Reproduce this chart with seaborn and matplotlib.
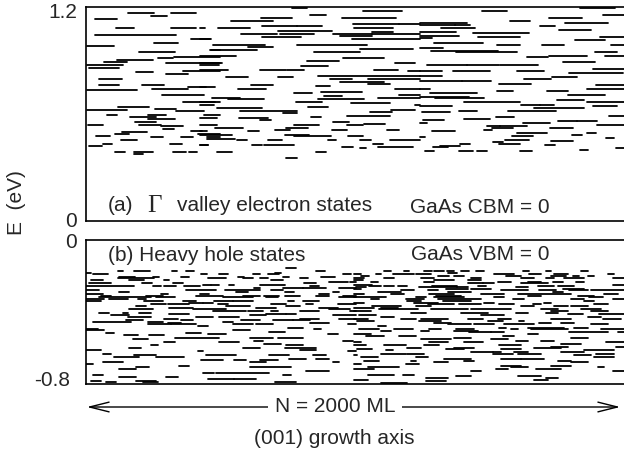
import matplotlib
matplotlib.use("Agg")
import matplotlib.pyplot as plt
from matplotlib.patches import FancyArrowPatch
import pandas as pd
import seaborn as sns

# ---------------- (a) Gamma valley electron states (ML positions, eV) ----------------
top_a_start = [155,315,240,33,110,315,33,389,254,5,
               464,198,327,268,114,67,296,5,12,362,
               186,296,48,207,48,381,244,5,281,362,
               118,257,5,333,77,232,439,164,232,181,
               9,198,278,285,389,133,108,418,37,242,
               353,451,129,64,312,424,12,108,180,325,
               384,180]
top_a_end = [254,408,300,114,178,408,333,464,343,104,
             498,331,498,325,250,151,498,139,123,498,
             250,378,135,291,123,445,381,188,439,498,
             234,333,151,439,116,296,498,259,331,259,
             64,278,362,327,433,226,160,498,89,285,
             397,498,188,95,356,455,58,145,250,372,
             412,213]
top_a_E = [1.168,1.168,1.147,1.133,1.084,1.084,1.042,1.020,0.999,0.980,
           0.959,0.945,0.922,0.912,0.901,0.892,0.886,0.874,0.860,0.843,
           0.836,0.824,0.799,0.764,0.760,0.749,0.742,0.734,0.704,0.666,
           0.638,0.629,0.621,0.617,0.593,0.593,0.593,0.584,0.573,0.554,
           0.540,0.540,0.535,0.516,0.506,0.497,0.486,0.486,0.479,0.471,
           0.471,0.471,0.453,0.433,0.433,0.426,0.419,0.388,0.388,0.388,
           0.388,0.375]

top_b_start = [765,1028,831,650,953,538,992,1162,653,784,
               492,997,424,715,1063,575,722,920,1063,945,
               653,424,988,471,786,604,1017,461,848,424,
               957,821,424,1149,424,798,1069,424,645,749,
               1198,862,521,713,908,1050,945,1048,612,854,
               424,1149,564,873,775,1164,883,470,1085,529,
               864,424,780,984,424,1224,827,488,1133,573,
               1054,734,970,836,424,569,647,920,1032,424,
               774,970,480,744,703,914,1118,424,604,424,
               740,775,973,449,678,560,899,1019,1131,1066,
               660,616,424,951,1087,1017,488,856,744]
top_b_end = [823,1174,893,765,1152,694,1162,1242,784,877,
             608,1143,443,914,1143,709,846,1063,1242,1063,
             798,461,1242,666,1044,697,1215,637,1019,557,
             1108,942,507,1224,496,901,1158,529,744,812,
             1242,1242,604,769,988,1242,1106,1131,697,908,
             480,1242,668,1025,839,1242,951,573,1242,660,
             1034,480,877,1131,474,1242,901,653,1224,784,
             1137,784,1131,873,486,678,687,976,1112,486,
             867,1029,585,827,759,970,1164,451,643,542,
             829,910,1029,554,728,600,929,1059,1242,1104,
             774,653,455,992,1214,1042,542,893,784]
top_b_E = [1.192,1.179,1.157,1.137,1.137,1.121,1.102,1.102,1.095,1.095,
           1.084,1.084,1.084,1.066,1.061,1.050,1.050,1.050,1.050,1.038,
           1.029,1.020,1.020,0.987,0.987,0.977,0.965,0.957,0.949,0.926,
           0.912,0.898,0.888,0.888,0.874,0.870,0.848,0.845,0.845,0.845,
           0.839,0.813,0.809,0.805,0.795,0.795,0.781,0.768,0.760,0.757,
           0.751,0.740,0.740,0.726,0.717,0.708,0.700,0.692,0.692,0.682,
           0.682,0.666,0.666,0.659,0.651,0.651,0.640,0.635,0.625,0.619,
           0.611,0.603,0.591,0.584,0.576,0.576,0.569,0.556,0.546,0.536,
           0.536,0.536,0.524,0.524,0.512,0.512,0.512,0.505,0.505,0.484,
           0.484,0.475,0.475,0.460,0.453,0.453,0.453,0.453,0.453,0.433,
           0.424,0.424,0.424,0.413,0.413,0.407,0.388,0.388,0.352]

top_c_start = [1837,1471,1922,1723,1577,1781,1242,1242,1372,1688,
               1319,1760,1242,1437,1242,1459,1912,1242,1816,1292,
               1527,1695,1951,1242,1282,1376,1893,1723,1930,1639,
               1775,1269,1416,1540,1884,1242,1366,1602,1796,1242,
               1732,1629,1242,1397,1536,1897,1242,1862,1527,1713,
               1277,1790,1242,1298,1750,1407,1862,1616,1686,1242,
               1883,1664,1567,1388,1248,1946,1525,1407,1254,1753,
               1825,1242,1626,1899,1490,1540,1509,1726,1480,1285,
               1602,1862,1806,1583,1242,1934,1558,1729,1512,1537,
               1391,1707,1316,1289,1971,1837,1261,1385,1455,1614]
top_c_end = [1967,1564,2000,1843,1651,1939,1416,1372,1428,1744,
             1447,1878,1375,1645,1388,1614,2000,1285,1930,1475,
             1614,1778,2000,1326,1533,1602,1974,1864,2000,1719,
             1893,1416,1537,1682,2000,1323,1500,1703,1998,1323,
             1827,1728,1397,1505,1654,2000,1279,2000,1589,1791,
             1455,1930,1422,1478,1850,1614,2000,1688,1738,1360,
             1974,1850,1748,1455,1354,2000,1592,1500,1329,1825,
             1899,1269,1726,2000,1540,1639,1589,1812,1509,1372,
             1713,1895,1843,1661,1261,1964,1645,1810,1552,1614,
             1428,1744,1391,1345,2000,1868,1292,1440,1490,1657]
top_c_E = [1.195,1.175,1.155,1.141,1.123,1.113,1.108,1.099,1.099,1.095,
           1.082,1.070,1.058,1.052,1.038,1.032,1.032,1.024,1.014,0.999,
           0.986,0.986,0.986,0.971,0.953,0.945,0.945,0.926,0.926,0.920,
           0.892,0.876,0.876,0.876,0.850,0.843,0.843,0.843,0.828,0.813,
           0.807,0.795,0.785,0.785,0.769,0.760,0.742,0.742,0.730,0.730,
           0.719,0.706,0.694,0.687,0.676,0.668,0.668,0.653,0.653,0.644,
           0.644,0.633,0.619,0.619,0.613,0.587,0.582,0.574,0.565,0.559,
           0.559,0.550,0.550,0.538,0.532,0.532,0.520,0.520,0.512,0.503,
           0.494,0.494,0.482,0.475,0.469,0.463,0.456,0.447,0.441,0.431,
           0.431,0.426,0.422,0.415,0.407,0.400,0.394,0.394,0.394,0.394]

# ---------------- (b) Heavy hole states: levels (eV) with segment starts / ends (ML) ----------------
hh_levels = [-0.158,-0.173,-0.184,-0.192,-0.207,-0.216,-0.225,-0.235,-0.244,-0.253,
             -0.259,-0.272,-0.281,-0.290,-0.304,-0.315,-0.322,-0.331,-0.343,-0.352,
             -0.361,-0.371,-0.378,-0.387,-0.399,-0.406,-0.412,-0.421,-0.430,-0.439,
             -0.449,-0.458,-0.464,-0.471,-0.480,-0.490,-0.495,-0.505,-0.514,-0.520,
             -0.527,-0.533,-0.547,-0.555,-0.564,-0.570,-0.583,-0.588,-0.600,-0.603,
             -0.614,-0.622,-0.635,-0.644,-0.654,-0.663,-0.672,-0.682,-0.691,-0.704,
             -0.711,-0.719,-0.732,-0.741,-0.750,-0.762,-0.775,-0.784,-0.793]
hh_starts = [[744],[180,118,320,372,856],[0,703],[25,428,496,620,676,955],[124,248,353,564,732,874],
             [118,453,583,645,794],[19,161,291,688],[905,980],[12,208,322,812],[434,465,533,645],
             [0,248,291,366,831],[626,732,806,942],[0,372,515,688],[124,558,738,918],[0,279,422,868],
             [56,223,409,583,663,738,856,955],[50,260,508,670,942],[0,87,192],[0,217,360,477,546,750,806],[384,434],
             [242,304,490,688,818,936],[186,521,744],[310,632,868],[397,161,905],[471,601,688,794,980],
             [50,136,198],[310,670,744],[93,608,918],[155,409,496],[291,794,942],
             [149,353,577,694,769],[25,229,508],[304,831],[229,316,546,632,973],[415],
             [750],[0,849],[0,546],[682],[372,74],
             [453,899],[143,236],[329,608,713],[174],[626,955],
             [291,496],[663],[744,242],[583,161],[738],
             [0,794],[415,973],[62],[180,446,682,843],[260,105],
             [756,856],[428,552,645],[62,918,608],[0],[347],
             [186,608],[124],[818],[484,434],[25,732],
             [124,298],[453,552],[19,186],[74,211,701]]
hh_ends = [[779],[238,136,337,403,887],[19,725],[81,449,527,645,719,986],[184,270,384,589,756,924],
           [254,521,620,676,825],[62,217,310,732],[973,1004],[93,246,360,856],[465,496,552,738],
           [180,279,335,422,868],[645,806,893,1004],[50,484,645,732],[161,601,775,942],[62,304,459,905],
           [93,285,508,645,719,794,905,1004],[242,329,620,713,1004],[68,155,223],[56,285,409,546,620,775,868],[434,471],
           [298,384,527,744,843,1004],[223,608,794],[397,707,936],[521,248,980],[595,657,713,868,1004],
           [87,155,242],[384,744,781],[161,670,1004],[242,471,570],[341,868,1004],
           [211,397,645,769,831],[167,285,546],[353,905],[316,409,620,694,1004],[453],
           [806],[43,874],[68,608],[738],[428,105],
           [521,936],[192,291],[496,694,806],[229],[657,992],
           [329,570],[725],[806,267],[645,205],[856],
           [56,856],[434,1004],[93],[260,558,756,893],[366,198],
           [818,905],[508,595,713],[136,942,670],[25],[384],
           [236,763],[186],[905],[682,477],[62,763],
           [186,341],[552,632],[56,260],[112,267,781]]

hh2_levels = [-0.175,-0.184,-0.192,-0.201,-0.212,-0.225,-0.235,-0.244,-0.250,-0.259,
              -0.266,-0.276,-0.283,-0.294,-0.304,-0.313,-0.322,-0.331,-0.341,-0.350,
              -0.359,-0.369,-0.378,-0.387,-0.397,-0.406,-0.415,-0.421,-0.430,-0.443,
              -0.453,-0.462,-0.471,-0.480,-0.490,-0.499,-0.508,-0.514,-0.523,-0.536,
              -0.546,-0.555,-0.562,-0.572,-0.581,-0.588,-0.596,-0.603,-0.611,-0.616,
              -0.626,-0.635,-0.644,-0.655,-0.663,-0.674,-0.682,-0.691,-0.700,-0.711,
              -0.719,-0.732,-0.750,-0.760,-0.769,-0.778,-0.788,-0.795]
hh2_starts = [[1109,1181,1257,1295,1342,1394,1450,1623,1710,1840],[1344],
              [997,1078,1140,1226,1518,1648,1741,1939],[1022,1307,1369,1561,1729,1809,1865],
              [997,1109,1245,1431,1617,1710,1778,1958],[997,1295,1419],
              [1059,1257,1530,1642,1735,1822],[1419,1474,1617],[997,1958],
              [1053,1109,1158,1288,1456,1679,1753],[1003,1239,1381,1598],[997,1338,1431,1772],
              [1171,1270,1543,1685,1797,1877],[1084,1344,1735],[997,1133,1276,1468,1605,1927],
              [1301,1642,1828],[997,1226,1295,1518,1871],[1059,1189,1307,1586,1803,1958],
              [1195,1326,1853],[997,1220,1481,1704],[1270,1388,1536,1660,1890],
              [1065,1226,1617,1741,1803],[997,1096],[1090,1282,1431,1691,1840],
              [997,1729,1877],[1208,1394,1598,1710],[1791,1908],[1016,1468],[1096,1865],
              [997,1171,1245,1419,1530,1729,1921],[1009,1239,1493,1611],[1295,1685,1766],
              [1344,1443,1555,1877],[1084],[1536,1642,1815],[1016,1146,1276,1375,1580,1654,1915],
              [1096,1245,1369],[1425,1505,1797,1977],[997,1642],[1040,1164,1549],[1369,1803],
              [1245,1505],[1598,1691],[997,1276,1406,1933],[1766],[997,1109,1257,1536],
              [1729,1970],[1195,1369,1667],[1009,1338,1543],[1115,1853],[1431,1512,1592,1766],
              [1096,1195,1512,1605,1896],[997,1815],[1226,1890,1022],[1332,1543,1617],
              [1034,1208,1406,1753],[1295,1803],[997,1189],[1543,1729],[1047,1580,1902],
              [997,1524,1673],[1431,1958],[1047,1177],[1375,1605],[1264,1710],[997,1667],
              [1264],[1096]]
hh2_ends = [[1133,1202,1285,1332,1369,1425,1481,1648,1729,1865],[1381],
            [1022,1096,1220,1282,1592,1691,1791,1964],[1053,1350,1406,1617,1784,1834,1890],
            [1034,1146,1295,1468,1667,1741,1853,2000],[1028,1369,1468],
            [1084,1295,1580,1691,1772,1853],[1474,1518,1716],[1065,2000],
            [1096,1146,1195,1381,1487,1741,1815],[1040,1381,1419,1642],[1022,1419,1505,1853],
            [1220,1307,1642,1747,1865,2000],[1171,1431,1772],[1034,1183,1369,1555,1803,1977],
            [1394,1691,1890],[1115,1264,1406,1555,1921],[1090,1257,1468,1629,1853,2000],
            [1245,1431,1890],[1034,1307,1518,1729],[1369,1468,1592,1691,1939],
            [1171,1282,1667,1791,1865],[1071,1158],[1233,1419,1580,1753,1915],
            [1059,1791,1939],[1264,1493,1642,1753],[1846,2000],[1078,1555],[1146,1915],
            [1047,1226,1344,1474,1580,1803,1989],[1071,1319,1549,1629],[1357,1729,1815],
            [1431,1518,1667,1939],[1115],[1561,1778,1865],[1090,1214,1319,1443,1605,1791,2000],
            [1133,1276,1456],[1505,1555,1939,2000],[1059,1679],[1109,1226,1592],[1431,1865],
            [1357,1567],[1642,1741],[1022,1344,1474,2000],[1840],[1040,1189,1313,1617],
            [1791,2000],[1245,1443,1766],[1065,1406,1617],[1140,1964],[1512,1543,1642,1853],
            [1189,1257,1586,1691,1964],[1009,1877],[1270,1964,1084],[1431,1617,1704],
            [1090,1226,1443,1803],[1344,1865],[1022,1239],[1617,1803],[1164,1642,1927],
            [1071,1567,1766],[1468,2000],[1146,1220],[1431,1691],[1344,1753],[1047,1716],
            [1338],[1195]]

tick_top_vals = [0, 1.2]
tick_top = ["0", "1.2"]
tick_bot_vals = [-0.8, 0]
tick_bot = ["-0.8", "0"]


def seg_frame(starts, ends, energies):
    rows = []
    for i, (a, b, e) in enumerate(zip(starts, ends, energies)):
        rows.append((i, a, e))
        rows.append((i, b, e))
    return pd.DataFrame(rows, columns=["seg", "x", "E"])


def grouped(levels, starts, ends):
    s, t, e = [], [], []
    for lev, ss, ee in zip(levels, starts, ends):
        for a, b in zip(ss, ee):
            s.append(a); t.append(b); e.append(lev)
    return s, t, e


top_df = seg_frame(top_a_start + top_b_start + top_c_start,
                   top_a_end + top_b_end + top_c_end,
                   top_a_E + top_b_E + top_c_E)
s1, e1, l1 = grouped(hh_levels, hh_starts, hh_ends)
s2, e2, l2 = grouped(hh2_levels, hh2_starts, hh2_ends)
bot_df = seg_frame(s1 + s2, e1 + e2, l1 + l2)

sns.set_theme(style="white")
plt.rcParams["font.family"] = ["Liberation Sans", "DejaVu Sans"]

W, H = 624, 455
fig = plt.figure(figsize=(W / 100, H / 100), dpi=100)
ax1 = fig.add_axes([86 / W, 1 - 221 / H, 1 - 86 / W, (221 - 7) / H])
ax2 = fig.add_axes([86 / W, 1 - 383.5 / H, 1 - 86 / W, (383.5 - 239.5) / H])

for ax, df in ((ax1, top_df), (ax2, bot_df)):
    sns.lineplot(data=df, x="x", y="E", units="seg", estimator=None, sort=False,
                 color="black", lw=1.3, ax=ax, legend=False)
    ax.set_xlim(0, 2000)
    ax.set_xticks([])
    ax.set_yticks([])
    ax.set_xlabel("")
    ax.set_ylabel("")
    for side in ("left", "top", "bottom"):
        ax.spines[side].set_color("black")
        ax.spines[side].set_linewidth(1.2)
    ax.spines["right"].set_visible(False)

ax1.set_ylim(0, 1.2)
ax2.set_ylim(-0.8, 0)

# tick labels (offsets in points, as positioned in the reference)
fs = 15
px = 0.72  # points per pixel at 100 dpi
for val, lab, dy in zip(tick_top_vals, tick_top, (0, -5)):
    ax1.annotate(lab, xy=(0, val), xycoords=("axes fraction", "data"),
                 xytext=(-9 * px, dy * px), textcoords="offset points",
                 ha="right", va="center", fontsize=fs)
for val, lab, dy in zip(tick_bot_vals, tick_bot, (3, -3)):
    ax2.annotate(lab, xy=(0, val), xycoords=("axes fraction", "data"),
                 xytext=(-(16 if lab == "-0.8" else 9) * px, dy * px), textcoords="offset points",
                 ha="right", va="center", fontsize=fs)

fig.text(108 / W, 1 - 211 / H, "(a)", fontsize=fs, va="baseline")
fig.text(147 / W, 1 - 212 / H, "Γ", fontsize=18, va="baseline",
         family=["Liberation Serif", "DejaVu Serif"])
fig.text(177 / W, 1 - 211 / H, "valley electron states", fontsize=fs, va="baseline")
fig.text(410 / W, 1 - 213 / H, "GaAs CBM = 0", fontsize=fs, va="baseline")
fig.text(108 / W, 1 - 261 / H, "(b) Heavy hole states", fontsize=fs, va="baseline")
fig.text(411 / W, 1 - 260 / H, "GaAs VBM = 0", fontsize=fs, va="baseline")
fig.text(17 / W, 1 - 203 / H, "E  (eV)", fontsize=fs, rotation=90, va="center", ha="center")

fig.add_artist(FancyArrowPatch(
    (84 / W, 1 - 407 / H), (623 / W, 1 - 407 / H), transform=fig.transFigure,
    arrowstyle="<->,head_length=1.4,head_width=0.35", mutation_scale=10,
    color="black", lw=1.0))
fig.text(335 / W, 1 - 406 / H, "N = 2000 ML", fontsize=fs, va="center", ha="center",
         bbox=dict(facecolor="white", edgecolor="none", pad=5))
fig.text(334 / W, 1 - 439 / H, "(001) growth axis", fontsize=fs, va="center", ha="center")

fig.savefig("out.png", dpi=100, facecolor="white")
